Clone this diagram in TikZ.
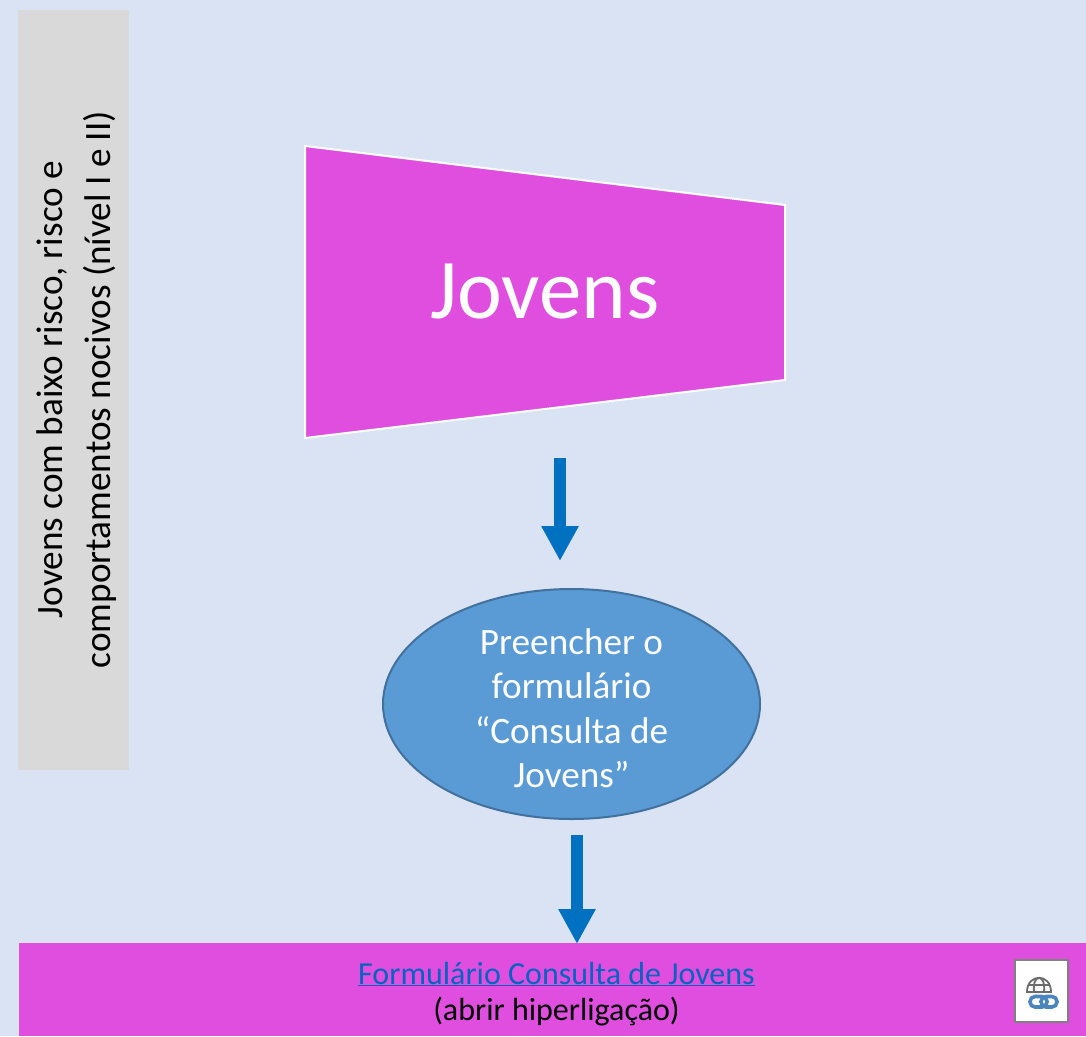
\documentclass[tikz,border=0pt]{standalone}
\usepackage{fontspec}
\setmainfont{Carlito}
\usetikzlibrary{shapes.geometric,arrows.meta}
\definecolor{bgblue}{HTML}{DAE3F3}
\definecolor{magbox}{HTML}{E04EE0}
\definecolor{greybox}{HTML}{D9D9D9}
\definecolor{ellfill}{HTML}{5B9BD5}
\definecolor{ellline}{HTML}{41719C}
\definecolor{arrowblue}{HTML}{0070C0}
\definecolor{linkblue}{HTML}{0563C1}
\definecolor{linkicon}{HTML}{4A86BD}
\tikzset{
  blockarrow/.style={draw=arrowblue,line width=12pt,-{Triangle[length=35pt,width=35pt]}},
  bartext/.style={inner sep=0pt,align=center,font=\fontsize{32}{38}\selectfont},
}
\begin{document}
\begin{tikzpicture}[x=1pt,y=-1pt]
\useasboundingbox (0,0) rectangle (1086,1036);
\fill[bgblue] (0,0) rectangle (1086,1036);
% grey side panel
\node[fill=greybox,minimum width=111pt,minimum height=760pt,inner sep=0pt,anchor=north west] (side) at (18,10) {};
\node[rotate=90,inner sep=0pt,align=center,font=\fontsize{37.2}{48}\selectfont,text=black] (sidetext) at (76.5,389.5) {Jovens com baixo risco, risco e\\comportamentos nocivos (nível I e II)};
% trapezoid
\draw[white,line width=2pt,fill=magbox] (305,146) -- (785,205) -- (785,380) -- (305,438) -- cycle;
\node[inner sep=0pt,text=white,font=\fontsize{85}{90}\selectfont] (jovens) at (545,292) {Jovens};
% ellipse
\node[ellipse,draw=ellline,line width=2pt,fill=ellfill,minimum width=377pt,minimum height=230pt,inner sep=0pt] (ell) at (571.5,704) {};
\node[inner sep=0pt,align=center,text=white,font=\fontsize{37.2}{44.5}\selectfont] (elltext) at (571.5,708) {Preencher o\\formulário\\“Consulta de\\Jovens”};
% bottom band
\node[fill=magbox,minimum width=1067pt,minimum height=93pt,inner sep=0pt,anchor=north west] (band) at (19,943) {};
\node[bartext,text=linkblue] (link) at (556.5,974) {\underline{Formulário Consulta de Jovens}};
\node[bartext,text=black] (open) at (556.5,1012) {(abrir hiperligação)};
% arrows
\coordinate (a1s) at (560,458);
\coordinate (a1e) at (560,561);
\coordinate (a2s) at (577,835);
\coordinate (a2e) at (577,944);
\draw[blockarrow] (a1s) -- (a1e);
\draw[blockarrow] (a2s) -- (a2e);
% icon
\node[fill=white,draw=gray,line width=2pt,minimum width=53pt,minimum height=62pt,inner sep=0pt] (icon) at (1041.5,991) {};
\begin{scope}[gray!85!black,line width=1.8pt]
  \draw (1027,992) .. controls (1027,973) and (1051,973) .. (1051,992) -- cycle;
  \draw (1028,985) -- (1050,985);
  \draw (1034,992) .. controls (1033,982) and (1036,978) .. (1039,978) .. controls (1042,978) and (1045,982) .. (1044,992);
\end{scope}
\draw[draw=linkicon,line width=3.6pt,rounded corners=5pt] (1047,996.5) rectangle (1030,1007);
\draw[draw=linkicon,line width=3.6pt,rounded corners=5pt] (1041,996.5) rectangle (1057,1007);
\end{tikzpicture}
\end{document}
